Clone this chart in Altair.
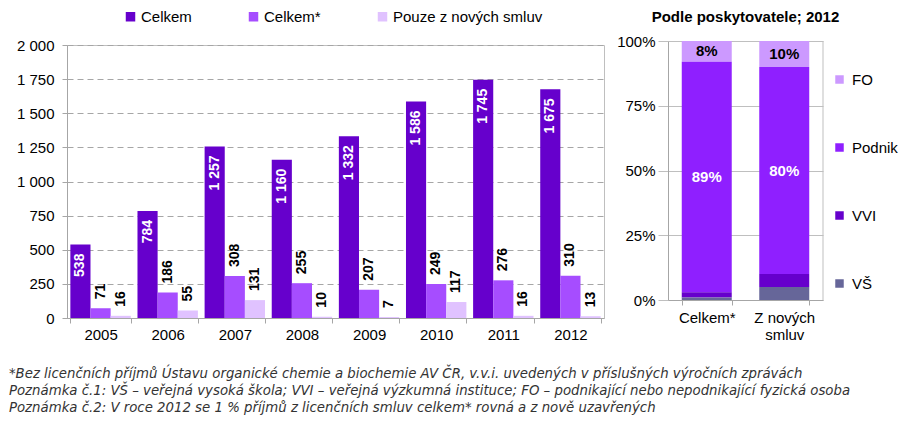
import altair as alt
import pandas as pd

# ---- data: left chart ----
years = ["2005", "2006", "2007", "2008", "2009", "2010", "2011", "2012"]
celkem = [538, 784, 1257, 1160, 1332, 1586, 1745, 1675]
celkem_star = [71, 186, 308, 255, 207, 249, 276, 310]
pouze_nove = [16, 55, 131, 10, 7, 117, 16, 13]
series_names = ["Celkem", "Celkem*", "Pouze z nových smluv"]
series_colors = ["#6600CC", "#A64DFF", "#E0C2FF"]
y_ticks = [0, 250, 500, 750, 1000, 1250, 1500, 1750, 2000]

# ---- data: right chart ----
categories = ["Celkem*", "Z nových smluv"]
providers = ["FO", "Podnik", "VVI", "VŠ"]          # legend order (top to bottom)
provider_colors = ["#CC99FF", "#8F1FFF", "#6600CC", "#666699"]
share_celkem_star = [8, 89, 2, 1]
share_z_novych = [10, 80, 5, 5]
pct_ticks = [0, 25, 50, 75, 100]

footnotes = [
    "*Bez licenčních příjmů Ústavu organické chemie a biochemie AV ČR, v.v.i. uvedených v příslušných výročních zprávách",
    "Poznámka č.1: VŠ – veřejná vysoká škola; VVI – veřejná výzkumná instituce; FO – podnikající nebo nepodnikající fyzická osoba",
    "Poznámka č.2: V roce 2012 se 1 % příjmů z licenčních smluv celkem* rovná a z nově uzavřených",
]

rows = []
for name, vals in zip(series_names, [celkem, celkem_star, pouze_nove]):
    for y, v in zip(years, vals):
        rows.append({"year": y, "series": name, "value": v,
                     "label": f"{v:,}".replace(",", " ")})
df_left = pd.DataFrame(rows)

rrows = []
for cat, vals in zip(categories, [share_celkem_star, share_z_novych]):
    for i, (p, v) in enumerate(zip(providers, vals)):
        rrows.append({"cat": cat, "provider": p, "value": v,
                      "order": len(providers) - i, "label": f"{v}%"})
df_right = pd.DataFrame(rrows)

GRID = "#A6A6A6"
FRAME = "#BFBFBF"

# ---- left chart ----
ly = alt.Y("value:Q", title=None, scale=alt.Scale(domain=[0, 2000]),
           axis=alt.Axis(values=y_ticks, labelOverlap=False,
                         labelExpr="replace(format(datum.value, ','), ',', ' ')",
                         grid=True, gridDash=[6, 4], gridColor=GRID,
                         tickSize=5, labelPadding=8, labelFontSize=15,
                         domainColor=GRID, tickColor=GRID))

base = alt.Chart(df_left).encode(
    x=alt.X("year:N", sort=years, title=None,
            scale=alt.Scale(paddingInner=0.1, paddingOuter=0.05),
            axis=alt.Axis(tickBand="extent", labelAngle=0, tickSize=5,
                          labelPadding=4, labelFontSize=15, domainColor=GRID,
                          tickColor=GRID)),
    xOffset=alt.XOffset("series:N", sort=series_names),
    y=ly,
)

bars = base.mark_bar().encode(
    color=alt.Color("series:N",
                    scale=alt.Scale(domain=series_names, range=series_colors),
                    legend=alt.Legend(title=None, orient="none", legendX=56,
                                      legendY=-36, direction="horizontal",
                                      columnPadding=54, symbolType="square",
                                      symbolSize=90, symbolStrokeWidth=0,
                                      labelFontSize=15, labelOffset=3)),
)

inside = base.transform_filter(alt.datum.series == "Celkem").mark_text(
    angle=270, align="right", baseline="middle", dx=-9,
    fontWeight="bold", fontSize=14, color="white"
).encode(text="label:N")

above = base.transform_filter(alt.datum.series != "Celkem").mark_text(
    angle=270, align="left", baseline="middle", dx=9,
    fontWeight="bold", fontSize=14, color="black"
).encode(text="label:N")

left = alt.layer(bars, inside, above).properties(
    width=537, height=273, view=alt.ViewBackground(stroke=FRAME)
)

# ---- right chart ----
rbase = alt.Chart(df_right).transform_stack(
    stack="value", groupby=["cat"], sort=[alt.SortField("order", "ascending")],
    as_=["y0", "y1"]
).transform_calculate(mid="(datum.y0 + datum.y1) / 2")

rx = alt.X("cat:N", sort=categories, title=None,
           scale=alt.Scale(paddingInner=0.355, paddingOuter=0.1775),
           axis=alt.Axis(tickBand="extent", labelAngle=0, tickSize=5,
                         labelPadding=5, labelFontSize=15, labelLineHeight=17,
                         domainColor=GRID, tickColor=GRID,
                         labelExpr="datum.label == 'Z nových smluv' ? ['Z nových', 'smluv'] : datum.label"))
yscale = alt.Scale(domain=[0, 100], range=[255, -4])
raxis = alt.Axis(values=pct_ticks, labelExpr="datum.value + '%'",
                 labelOverlap=False, grid=True, gridColor=FRAME, tickSize=10,
                 labelPadding=3, labelFontSize=15,
                 domainColor=GRID, tickColor=FRAME)

rbars = rbase.mark_bar().encode(
    x=rx,
    y=alt.Y("y0:Q", title=None, scale=yscale, axis=raxis),
    y2="y1:Q",
    color=alt.Color("provider:N",
                    scale=alt.Scale(domain=providers, range=provider_colors),
                    legend=alt.Legend(title=None, orient="none", legendX=164,
                                      legendY=27, direction="vertical",
                                      rowPadding=52, symbolType="square",
                                      symbolSize=72, symbolStrokeWidth=0,
                                      labelFontSize=15, labelOffset=5)),
)

rtext_dark = rbase.transform_filter(alt.datum.provider == "FO").mark_text(
    fontWeight="bold", fontSize=15, color="black", baseline="middle"
).encode(x=rx, y=alt.Y("mid:Q", title=None, scale=yscale, axis=raxis),
         text="label:N")

rtext_white = rbase.transform_filter(alt.datum.provider == "Podnik").mark_text(
    fontWeight="bold", fontSize=15, color="white", baseline="middle"
).encode(x=rx, y=alt.Y("mid:Q", title=None, scale=yscale, axis=raxis),
         text="label:N")

rborder = alt.Chart(pd.DataFrame({"lo": [0], "hi": [100]})).mark_rule(color=FRAME).encode(
    x=alt.value(155), y=alt.Y("lo:Q", title=None, scale=yscale, axis=raxis),
    y2="hi:Q"
)

right = alt.layer(rbars, rtext_dark, rtext_white, rborder).properties(
    width=155, height=255,
    title=alt.TitleParams("Podle poskytovatele; 2012", fontSize=15,
                          fontWeight="bold", anchor="middle", offset=9,
                          font="Liberation Sans", color="black"),
    view=alt.ViewBackground(stroke="transparent"),
)

chart = alt.hconcat(left, right, spacing=11).resolve_scale(
    color="independent"
).properties(
    title=alt.TitleParams(footnotes, orient="bottom", anchor="start",
                          font="DejaVu Sans", fontStyle="italic",
                          fontWeight="normal", fontSize=13.3, color="#333333",
                          lineHeight=17, offset=24, dx=-7),
    padding={"left": 0, "top": 0, "right": 0, "bottom": 2},
).configure(font="Liberation Sans").configure_axis(
    labelColor="black", labelFont="Liberation Sans"
).configure_legend(labelColor="black", labelFont="Liberation Sans")

chart.save("out.html", embed_options={"renderer": "svg", "actions": False})
